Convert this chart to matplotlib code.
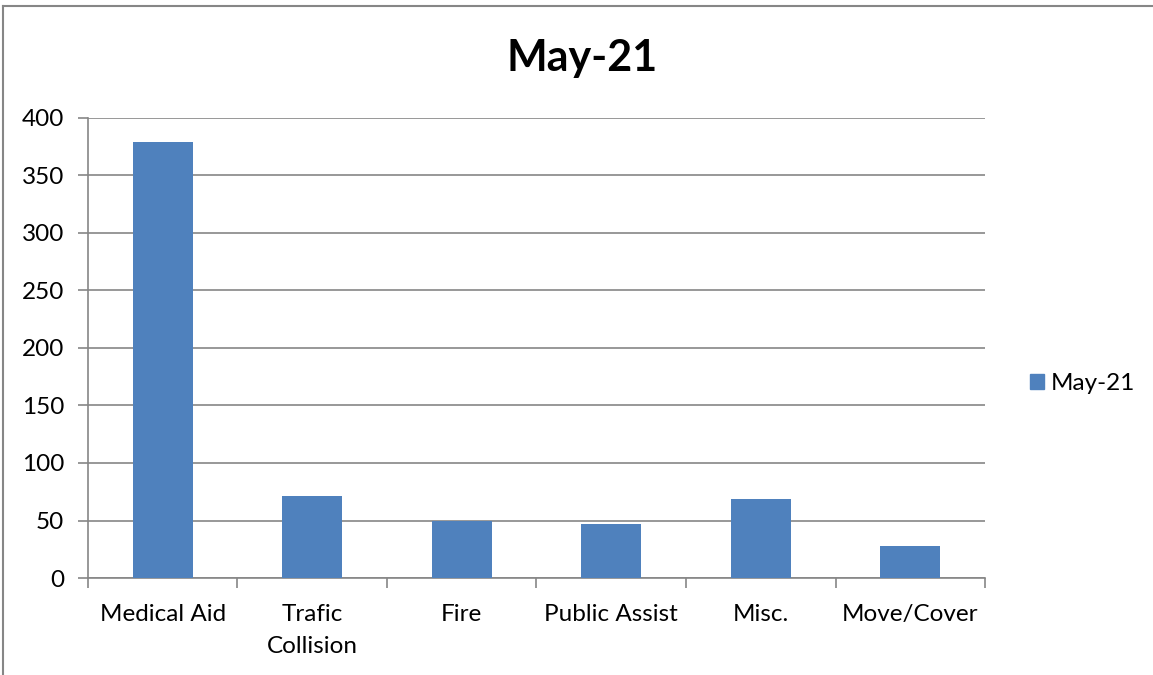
import matplotlib
matplotlib.use("Agg")
import matplotlib.pyplot as plt
from matplotlib.lines import Line2D
from matplotlib.patches import Patch
import numpy as np

categories = ["Medical Aid", "Trafic\nCollision", "Fire", "Public Assist", "Misc.", "Move/Cover"]
values = [379, 71, 50, 47, 69, 28]
series_name = "May-21"

plt.rcParams["font.family"] = ["Lato", "DejaVu Sans"]
grey = "#868686"
blue = "#4F81BD"

fig = plt.figure(figsize=(11.53, 6.75), dpi=100)
ax = fig.add_axes([0.0763, 0.1437, 0.778, 0.6815])

x = np.arange(len(categories))
ax.bar(x, values, width=0.4, color=blue, zorder=3)

ax.set_xlim(-0.5, len(categories) - 0.5)
ax.set_ylim(0, 400)
ax.set_yticks(np.arange(0, 401, 50))
ax.yaxis.grid(True, color=grey, linewidth=1.2, zorder=0)

# tick marks at category boundaries, labels at centres
ax.set_xticks(np.arange(-0.5, len(categories), 1.0))
ax.set_xticklabels([])
ax.set_xticks(x, minor=True)
ax.set_xticklabels(categories, minor=True, linespacing=1.6)
ax.tick_params(axis="x", which="major", length=7, color=grey, width=1.2)
ax.tick_params(axis="x", which="minor", length=0, pad=19, labelsize=17.5)
ax.tick_params(axis="y", length=7, color=grey, width=1.2, labelsize=17.5, pad=10)

for s in ("top", "right"):
    ax.spines[s].set_visible(False)
for s in ("left", "bottom"):
    ax.spines[s].set_color(grey)
    ax.spines[s].set_linewidth(1.2)

fig.text(0.505, 0.914, series_name, ha="center", va="center",
         fontsize=31, fontweight="bold")

fig.legend(handles=[Patch(color=blue, label=series_name)],
           loc="center left", bbox_to_anchor=(0.874, 0.432), frameon=False,
           fontsize=17.5, handlelength=0.6, handleheight=0.6, handletextpad=0.25)

# chart frame (only top and left edges visible in the crop)
fig.add_artist(Line2D([3 / 1153, 1], [1 - 6 / 675, 1 - 6 / 675], color=grey, linewidth=1.5))
fig.add_artist(Line2D([3 / 1153, 3 / 1153], [0, 1 - 6 / 675], color=grey, linewidth=1.5))

fig.savefig("out.png", dpi=100)
